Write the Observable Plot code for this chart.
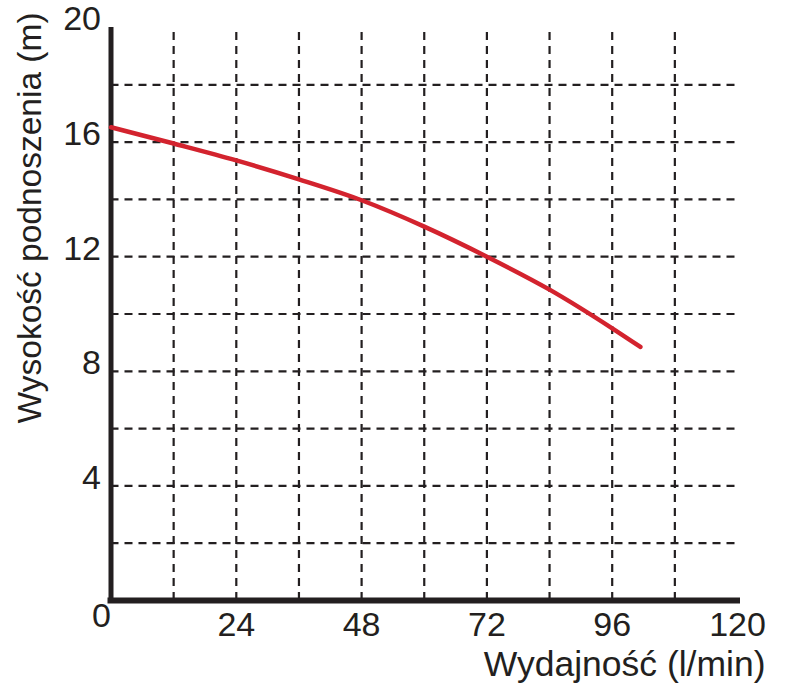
<!DOCTYPE html>
<html>
<head>
<meta charset="utf-8">
<script src="https://cdn.jsdelivr.net/npm/d3@7"></script>
<script src="https://cdn.jsdelivr.net/npm/@observablehq/plot@0.6"></script>
<style>
  html, body { margin: 0; padding: 0; background: #fff; }
  #chart svg { display: block; }
</style>
</head>
<body>
<div id="chart"></div>
<script>
// Data
const flow = [0, 12, 24, 36, 48, 60, 72, 84, 96, 101.4];           // l/min
const head = [16.52, 15.95, 15.36, 14.7, 13.97, 13.05, 12.0, 10.85, 9.5, 8.85]; // m

const xTicks = [24, 48, 72, 96, 120];
const yTicks = [4, 8, 12, 16, 20];
const xGrid = [12, 24, 36, 48, 60, 72, 84, 96, 108];
const yGrid = [2, 4, 6, 8, 10, 12, 14, 16, 18];
const originLabel = ["0"];
const xTitle = ["Wydajność (l/min)"];
const yTitle = ["Wysokość podnoszenia (m)"];

const curve = flow.map((x, i) => ({x, y: head[i]}));

const ink = "#231f20";
const red = "#d3232e";

const chart = Plot.plot({
  width: 785,
  height: 689,
  marginLeft: 110.5,
  marginRight: 48,
  marginTop: 27,
  marginBottom: 89,
  x: {domain: [0, 120]},
  y: {domain: [0, 20]},
  style: {
    fontFamily: "'Liberation Sans', Arial, sans-serif",
    fontSize: "34px",
    color: ink,
    background: "#fff"
  },
  marks: [
    // dashed grid
    Plot.ruleX(xGrid, {y1: 0, y2: 20, stroke: ink, strokeWidth: 2.2, strokeDasharray: "8,6"}),
    Plot.ruleY(yGrid, {x1: 0, x2: 120, stroke: ink, strokeWidth: 2.2, strokeDasharray: "8,6"}),
    // axis lines
    Plot.ruleX([0], {y1: 0, y2: 20, stroke: ink, strokeWidth: 5}),
    Plot.ruleY([0], {x1: 0, x2: 120, stroke: ink, strokeWidth: 6, strokeLinecap: "square"}),
    // tick labels
    Plot.axisX(xTicks, {tickSize: 0, tickPadding: 11, fontSize: 34, label: null}),
    Plot.axisY(yTicks, {tickSize: 0, tickPadding: 10, dy: -8, fontSize: 34, label: null}),
    Plot.text(originLabel, {frameAnchor: "bottom-left", dx: -9.5, dy: 16, lineAnchor: "middle", textAnchor: "middle", fontSize: 34, fill: ink}),
    // pump curve
    Plot.line(curve, {x: "x", y: "y", stroke: red, strokeWidth: 4.5, curve: "monotone-x"}),
    // axis titles
    Plot.text(xTitle, {frameAnchor: "bottom-right", textAnchor: "end", lineAnchor: "bottom", dx: 28, dy: 75, fontSize: 35.5, fill: ink}),
    Plot.text(yTitle, {frameAnchor: "left", rotate: -90, textAnchor: "middle", lineAnchor: "bottom", dx: -70, dy: -96, fontSize: 33.5, fill: ink})
  ]
});

document.getElementById("chart").appendChild(chart);
</script>
</body>
</html>
